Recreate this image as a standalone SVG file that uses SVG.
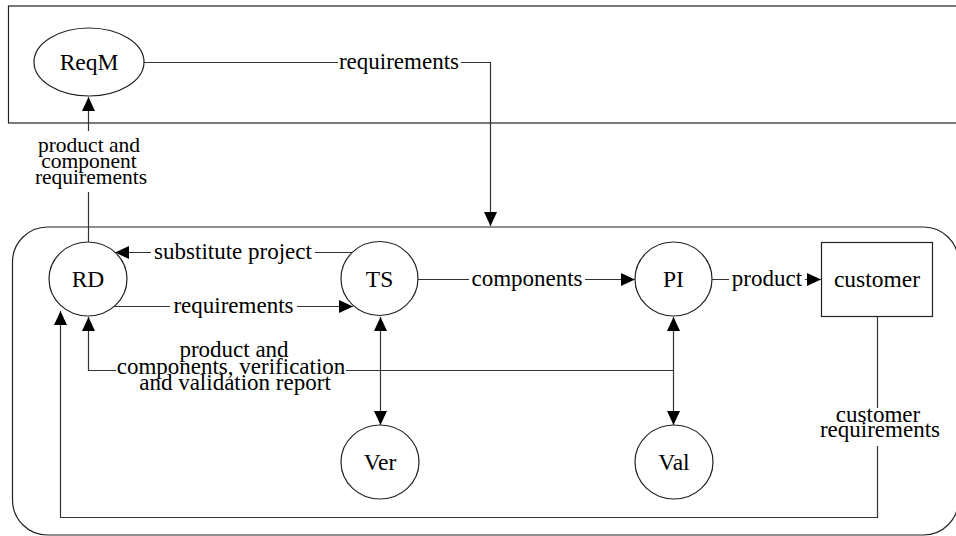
<svg xmlns="http://www.w3.org/2000/svg" width="956" height="536" viewBox="0 0 956 536">
<defs>
<marker id="ah" markerUnits="userSpaceOnUse" markerWidth="14" markerHeight="13" refX="14" refY="6.5" orient="auto-start-reverse">
<path d="M0,0 L14,6.5 L0,13 z" fill="#000"/>
</marker>
<style>
.frame{fill:none;stroke:#222;stroke-width:1.2}
.node{fill:#fff;stroke:#222;stroke-width:1.2}
.edge{fill:none;stroke:#333;stroke-width:1.2}
.arr{marker-end:url(#ah)}
.both{marker-start:url(#ah);marker-end:url(#ah)}
text{font-family:"Liberation Serif","Times New Roman",serif;fill:#000;text-anchor:middle}
.nl{font-size:23.5px}
.el{font-size:23px}
.sl{font-size:21.5px}
</style>
</defs>
<rect class="frame" x="8.5" y="6" width="960" height="117"/>
<rect class="frame" x="12.5" y="227" width="946" height="308" rx="35" ry="35"/>

<g id="connectors">
<path class="edge arr" d="M144,62.5 H338 M461,62.5 H490.5 V226"/>
<path class="edge arr" d="M88.5,242 V192 M88.5,131 V97"/>
<path class="edge arr" d="M352,252.5 H315 M151,252.5 H115"/>
<path class="edge arr" d="M114,306.5 H170 M297,306.5 H353"/>
<path class="edge arr" d="M418,279.5 H469 M585,279.5 H635"/>
<path class="edge arr" d="M712,279.5 H729 M805,279.5 H821"/>
<path class="edge both" d="M380.5,317 V425"/>
<path class="edge both" d="M673.5,317 V425"/>
<path class="edge arr" d="M673.5,370.5 H346 M116,370.5 H88.5 V317"/>
<path class="edge arr" d="M877.5,316 V408 M877.5,446 V517.5 H60.5 V311"/>
<g id="edge-labels">
<text class="el" x="399" y="69">requirements</text>
<text class="sl" x="89" y="152">product and</text>
<text class="sl" x="89" y="168">component</text>
<text class="sl" x="91" y="184">requirements</text>
<text class="el" x="233" y="259">substitute project</text>
<text class="el" x="233.5" y="313">requirements</text>
<text class="el" x="527" y="286">components</text>
<text class="el" x="767" y="286">product</text>
<text class="el" x="234" y="357">product and</text>
<text class="el" x="231" y="374">components, verification</text>
<text class="el" x="235" y="390">and validation report</text>
<text class="el" x="878" y="422">customer</text>
<text class="el" x="880" y="437">requirements</text>
</g>
</g>

<g id="ReqM"><ellipse class="node" cx="89" cy="62" rx="55" ry="34"/><text class="nl" x="89" y="70">ReqM</text></g>
<g id="RD"><ellipse class="node" cx="88" cy="279" rx="39" ry="37"/><text class="nl" x="88" y="287">RD</text></g>
<g id="TS"><ellipse class="node" cx="379.5" cy="278.5" rx="38.5" ry="37"/><text class="nl" x="379.5" y="287">TS</text></g>
<g id="PI"><ellipse class="node" cx="673.5" cy="279" rx="38.5" ry="37"/><text class="nl" x="673.5" y="287">PI</text></g>
<g id="customer"><rect class="node" x="821.5" y="242.5" width="111" height="74"/><text class="nl" x="877" y="287">customer</text></g>
<g id="Ver"><ellipse class="node" cx="380" cy="462" rx="39" ry="37"/><text class="nl" x="380" y="470">Ver</text></g>
<g id="Val"><ellipse class="node" cx="674" cy="462" rx="39" ry="37"/><text class="nl" x="674" y="470">Val</text></g>
</svg>
